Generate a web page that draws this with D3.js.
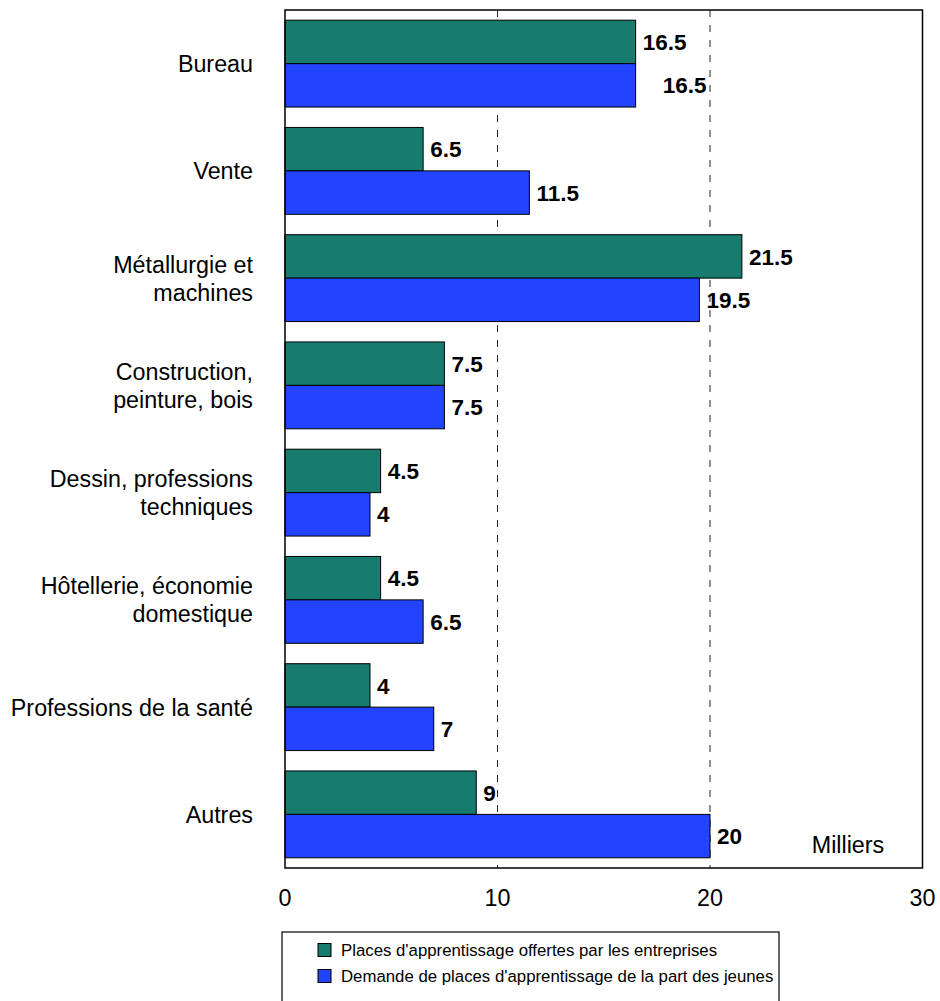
<!DOCTYPE html>
<html>
<head>
<meta charset="utf-8">
<script src="https://cdn.jsdelivr.net/npm/d3@7"></script>
<style>
  html, body { margin: 0; padding: 0; background: #fff; }
  svg { display: block; font-family: Arial, "Liberation Sans", sans-serif; }
</style>
</head>
<body>
<svg id="chart" width="940" height="1001"></svg>
<script>
// ---- data ----
const categories = [
  ["Bureau"],
  ["Vente"],
  ["Métallurgie et", "machines"],
  ["Construction,", "peinture, bois"],
  ["Dessin, professions", "techniques"],
  ["Hôtellerie, économie", "domestique"],
  ["Professions de la santé"],
  ["Autres"]
];
const categoryKeys = categories.map(c => c.join(" "));
const seriesNames = [
  "Places d'apprentissage offertes par les entreprises",
  "Demande de places d'apprentissage de la part des jeunes"
];
const offered = [16.5, 6.5, 21.5, 7.5, 4.5, 4.5, 4, 9];
const demand  = [16.5, 11.5, 19.5, 7.5, 4, 6.5, 7, 20];
const valueLabels = [
  ["16.5", "6.5", "21.5", "7.5", "4.5", "4.5", "4", "9"],
  ["16.5", "11.5", "19.5", "7.5", "4", "6.5", "7", "20"]
];
const xTicks = [0, 10, 20, 30];
const gridValues = [10, 20];
const unitLabel = "Milliers";
const colors = ["#177B6E", "#2344FF"];

// ---- layout ----
const svg = d3.select("#chart");
const plot = { left: 285, top: 10, right: 922.5, bottom: 868 };
const fontMain = 23.3;
const fontBold = 22.5;

const x = d3.scaleLinear().domain([0, 30]).range([plot.left, plot.right]);
const y0 = d3.scaleBand().domain(categoryKeys).range([plot.top, plot.bottom])
  .paddingInner(0.19).paddingOuter(0.095);
const y1 = d3.scaleBand().domain([0, 1]).range([0, y0.bandwidth()]);

const seriesValues = [offered, demand];

// gridlines
svg.append("g").selectAll("line").data(gridValues).join("line")
  .attr("x1", d => x(d)).attr("x2", d => x(d))
  .attr("y1", plot.top).attr("y2", plot.bottom)
  .attr("stroke", "#222").attr("stroke-width", 1)
  .attr("stroke-dasharray", "7,8");

// bars
const groups = svg.append("g").selectAll("g").data(categoryKeys).join("g")
  .attr("transform", d => `translate(0,${y0(d)})`);

groups.selectAll("rect").data((d, i) => [0, 1].map(s => ({ s, v: seriesValues[s][i], i })))
  .join("rect")
  .attr("x", x(0))
  .attr("y", d => y1(d.s))
  .attr("width", d => x(d.v) - x(0))
  .attr("height", y1.bandwidth())
  .attr("fill", d => colors[d.s])
  .attr("stroke", "#000").attr("stroke-width", 1);

// value labels (Excel pushed one label sideways to avoid overlap)
const labelShift = (s, i) => (s === 1 && i === 0 ? 20 : 0);
groups.selectAll("text").data((d, i) => [0, 1].map(s => ({ s, v: seriesValues[s][i], i })))
  .join("text")
  .attr("x", d => x(d.v) + 7 + labelShift(d.s, d.i))
  .attr("y", d => y1(d.s) + y1.bandwidth() / 2)
  .attr("dy", "0.36em")
  .attr("font-size", fontBold).attr("font-weight", "bold").attr("fill", "#000")
  .text(d => valueLabels[d.s][d.i]);

// plot border
svg.append("rect")
  .attr("x", plot.left).attr("y", plot.top)
  .attr("width", plot.right - plot.left).attr("height", plot.bottom - plot.top)
  .attr("fill", "none").attr("stroke", "#000").attr("stroke-width", 1.5);

// category labels
const catG = svg.append("g").selectAll("text").data(categories).join("text")
  .attr("text-anchor", "end")
  .attr("font-size", fontMain).attr("fill", "#000")
  .attr("transform", (d, i) => `translate(253,${y0(categoryKeys[i]) + y0.bandwidth() / 2})`);
catG.selectAll("tspan").data(d => d.map((t, j) => ({ t, j, n: d.length }))).join("tspan")
  .attr("x", 0)
  .attr("y", d => (d.j - (d.n - 1) / 2) * 28)
  .attr("dy", "0.36em")
  .text(d => d.t);

// x tick labels
svg.append("g").selectAll("text").data(xTicks).join("text")
  .attr("x", d => x(d)).attr("y", 898).attr("dy", "0.36em")
  .attr("text-anchor", "middle").attr("font-size", fontMain).attr("fill", "#000")
  .text(d => d);

// unit label
svg.append("text").attr("x", 848).attr("y", 845).attr("dy", "0.36em")
  .attr("text-anchor", "middle").attr("font-size", fontMain).attr("fill", "#000")
  .text(unitLabel);

// legend
const legend = svg.append("g");
legend.append("rect").attr("x", 282).attr("y", 932).attr("width", 497).attr("height", 90)
  .attr("fill", "#fff").attr("stroke", "#000").attr("stroke-width", 1.2);
const li = legend.selectAll("g").data(seriesNames).join("g")
  .attr("transform", (d, i) => `translate(0,${950 + i * 26})`);
li.append("rect").attr("x", 318).attr("y", -6.5).attr("width", 13).attr("height", 13)
  .attr("fill", (d, i) => colors[i]).attr("stroke", "#000").attr("stroke-width", 1);
li.append("text").attr("x", 341).attr("y", 0).attr("dy", "0.36em")
  .attr("font-size", 16.8).attr("fill", "#000").text(d => d);
</script>
</body>
</html>
